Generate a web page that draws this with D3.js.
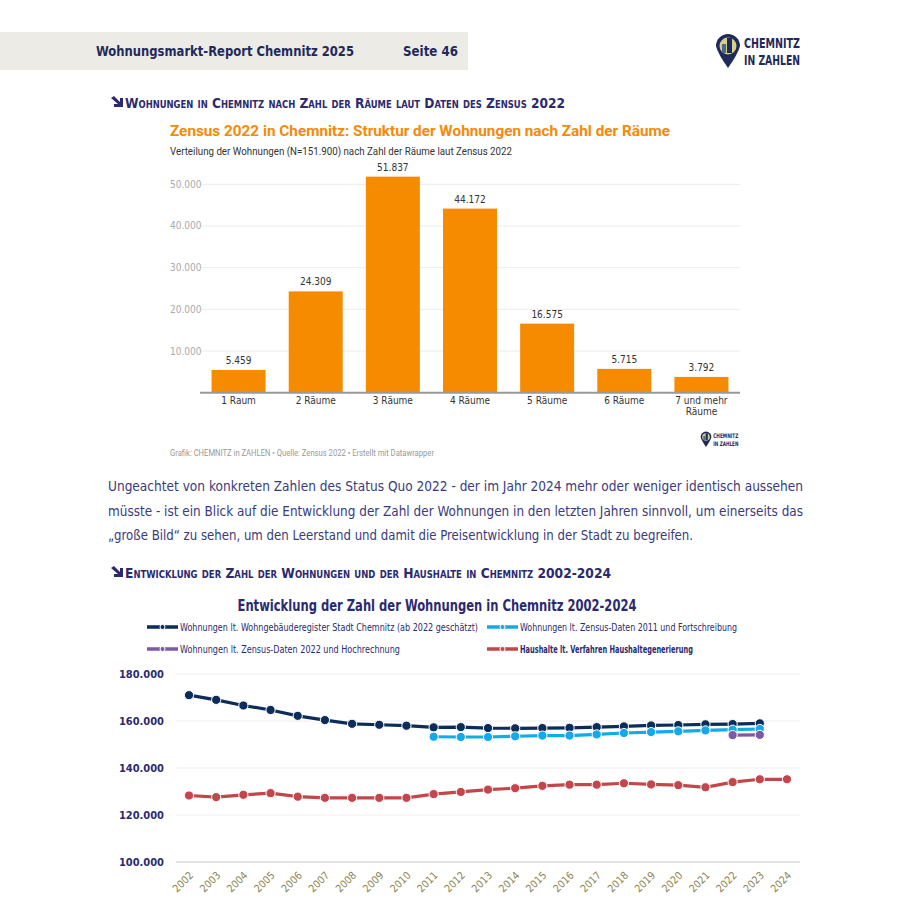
<!DOCTYPE html>
<html>
<head>
<meta charset="utf-8">
<script src="https://cdn.jsdelivr.net/npm/d3@7"></script>
<style>
  body { margin: 0; background: #fff; }
  text { font-family: "DejaVu Sans Condensed", "DejaVu Sans", sans-serif; }
  .rob { font-family: Roboto, "Noto Sans", sans-serif; }
</style>
</head>
<body>
<svg id="page" width="911" height="909"></svg>
<script>
// bar chart data (Zensus 2022)
var rooms = ["1 Raum", "2 Räume", "3 Räume", "4 Räume", "5 Räume", "6 Räume", "7 und mehr Räume"];
var roomCounts = [5459, 24309, 51837, 44172, 16575, 5715, 3792];
var barTicks = [10000, 20000, 30000, 40000, 50000];

// line chart data
var years = [2002, 2003, 2004, 2005, 2006, 2007, 2008, 2009, 2010, 2011, 2012, 2013,
  2014, 2015, 2016, 2017, 2018, 2019, 2020, 2021, 2022, 2023, 2024];
var register = [171000, 169000, 166600, 164700, 162200, 160400, 158800, 158400, 158000, 157300, 157400, 157000,
  156900, 157000, 157100, 157400, 157700, 158100, 158300, 158600, 158700, 159000, null];
var zensus2011 = [null, null, null, null, null, null, null, null, null, 153300, 153200, 153200,
  153500, 153800, 153800, 154300, 154900, 155300, 155600, 156000, 156300, 156600, null];
var zensus2022 = [null, null, null, null, null, null, null, null, null, null, null, null,
  null, null, null, null, null, null, null, null, 154000, 154100, null];
var households = [128300, 127600, 128600, 129300, 127800, 127300, 127300, 127300, 127300, 128900, 129800, 130800,
  131400, 132400, 132900, 132900, 133500, 133000, 132700, 131800, 134000, 135200, 135200];
var lineTicks = [100000, 120000, 140000, 160000, 180000];

var seriesNames = [
  "Wohnungen lt. Wohngebäuderegister Stadt Chemnitz (ab 2022 geschätzt)",
  "Wohnungen lt. Zensus-Daten 2011 und Fortschreibung",
  "Wohnungen lt. Zensus-Daten 2022 und Hochrechnung",
  "Haushalte lt. Verfahren Haushaltegenerierung"
];

var paragraph = [
  "Ungeachtet von konkreten Zahlen des Status Quo 2022 - der im Jahr 2024 mehr oder weniger identisch aussehen",
  "müsste - ist ein Blick auf die Entwicklung der Zahl der Wohnungen in den letzten Jahren sinnvoll, um einerseits das",
  "\u201egroße Bild\u201c zu sehen, um den Leerstand und damit die Preisentwicklung in der Stadt zu begreifen."
];

var navy = "#2b2a6e";
var fmt = d3.formatLocale({decimal: ",", thousands: ".", grouping: [3]}).format(",d");

var svg = d3.select("#page");
var defs = svg.append("defs");

// ---- page header ----
svg.append("rect").attr("x", 0).attr("y", 32).attr("width", 468).attr("height", 38).attr("fill", "#ecebe6");
svg.append("text").attr("x", 96).attr("y", 56).attr("font-size", 13.5).attr("font-weight", "bold")
  .attr("fill", "#1f2a5a").attr("textLength", 258).attr("lengthAdjust", "spacingAndGlyphs")
  .text("Wohnungsmarkt-Report Chemnitz 2025");
svg.append("text").attr("x", 403).attr("y", 56).attr("font-size", 13.5).attr("font-weight", "bold")
  .attr("fill", "#1f2a5a").attr("textLength", 55).attr("lengthAdjust", "spacingAndGlyphs")
  .text("Seite 46");

function logo(g, x, y, s) {
  var l = g.append("g").attr("transform", "translate(" + x + "," + y + ") scale(" + s + ")");
  l.append("path").attr("d", "M-12,0 A12,12 0 1 1 12,0 Q10,8 0,22 Q-10,8 -12,0 Z").attr("fill", "#1f2a5a");
  l.append("circle").attr("r", 8.5).attr("fill", "#d6cf8c");
  l.append("rect").attr("x", -1).attr("y", -8).attr("width", 5).attr("height", 15).attr("fill", "#1f2a5a");
  l.append("rect").attr("x", -6).attr("y", -2).attr("width", 4).attr("height", 9).attr("fill", "#4b6a8a");
  l.append("text").attr("x", 16).attr("y", 2).attr("font-size", 14).attr("font-weight", "bold")
    .attr("fill", "#1f2a5a").attr("textLength", 56).attr("lengthAdjust", "spacingAndGlyphs").text("CHEMNITZ");
  l.append("text").attr("x", 16).attr("y", 19).attr("font-size", 14).attr("font-weight", "bold")
    .attr("fill", "#1f2a5a").attr("textLength", 56).attr("lengthAdjust", "spacingAndGlyphs").text("IN ZAHLEN");
}
logo(svg, 728, 46, 1);

// ---- section headings ----
function heading(y, label, w) {
  svg.append("path").attr("d", "M" + 111 + "," + (y - 10) + " l3,-2 l6,6 v-4 h3 v9 h-9 v-3 h4 z")
    .attr("fill", navy);
  svg.append("text").attr("x", 125).attr("y", y).attr("font-size", 14.5).attr("font-weight", "bold")
    .attr("font-variant", "small-caps").attr("fill", navy)
    .attr("textLength", w).attr("lengthAdjust", "spacingAndGlyphs").text(label);
}
heading(108, "Wohnungen in Chemnitz nach Zahl der Räume laut Daten des Zensus 2022", 440);
heading(578, "Entwicklung der Zahl der Wohnungen und der Haushalte in Chemnitz 2002-2024", 486);

// ---- bar chart ----
svg.append("text").attr("class", "rob").attr("x", 170).attr("y", 136).attr("font-size", 15.5)
  .attr("font-weight", "bold").attr("fill", "#f58a07").attr("textLength", 500).attr("lengthAdjust", "spacingAndGlyphs")
  .text("Zensus 2022 in Chemnitz: Struktur der Wohnungen nach Zahl der Räume");
svg.append("text").attr("class", "rob").attr("x", 170).attr("y", 155).attr("font-size", 10.5)
  .attr("fill", "#333").attr("textLength", 342).attr("lengthAdjust", "spacingAndGlyphs")
  .text("Verteilung der Wohnungen (N=151.900) nach Zahl der Räume laut Zensus 2022");

var bx = d3.scaleBand().domain(rooms).range([200, 740]).paddingInner(0.3).paddingOuter(0.15);
var by = d3.scaleLinear().domain([0, 50000]).range([392.7, 184.3]);

var bars = svg.append("g").attr("class", "rob");
bars.selectAll(".grid").data(barTicks).enter().append("line")
  .attr("x1", 201).attr("x2", 740).attr("y1", function(d) { return by(d); }).attr("y2", function(d) { return by(d); })
  .attr("stroke", "#ececec").attr("stroke-width", 1);
bars.selectAll(".ylab").data(barTicks).enter().append("text")
  .attr("x", 170).attr("y", function(d) { return by(d); }).attr("dy", "0.35em")
  .attr("font-size", 10).attr("fill", "#aaa").text(function(d) { return fmt(d); });
bars.selectAll(".bar").data(roomCounts).enter().append("rect")
  .attr("x", function(d, i) { return bx(rooms[i]); })
  .attr("width", bx.bandwidth())
  .attr("y", function(d) { return by(d); })
  .attr("height", function(d) { return by(0) - by(d); })
  .attr("fill", "#f78b00");
bars.selectAll(".val").data(roomCounts).enter().append("text")
  .attr("x", function(d, i) { return bx(rooms[i]) + bx.bandwidth() / 2; })
  .attr("y", function(d) { return by(d) - 6; })
  .attr("text-anchor", "middle").attr("font-size", 10).attr("fill", "#333")
  .text(function(d) { return fmt(d); });
bars.append("line").attr("x1", 200).attr("x2", 740).attr("y1", by(0)).attr("y2", by(0))
  .attr("stroke", "#999").attr("stroke-width", 2);
rooms.forEach(function(r) {
  var t = bars.append("text").attr("x", bx(r) + bx.bandwidth() / 2).attr("y", 404)
    .attr("text-anchor", "middle").attr("font-size", 10).attr("fill", "#333");
  var parts = r.indexOf("und mehr") > 0 ? ["7 und mehr", "Räume"] : [r];
  parts.forEach(function(p, i) {
    t.append("tspan").attr("x", bx(r) + bx.bandwidth() / 2).attr("dy", i ? 11 : 0).text(p);
  });
});
svg.append("text").attr("class", "rob").attr("x", 170).attr("y", 456).attr("font-size", 8.5)
  .attr("fill", "#999").attr("textLength", 264).attr("lengthAdjust", "spacingAndGlyphs")
  .text("Grafik: CHEMNITZ in ZAHLEN \u2022 Quelle: Zensus 2022 \u2022 Erstellt mit Datawrapper");
logo(svg, 706, 437, 0.45);

// ---- paragraph ----
paragraph.forEach(function(line, i) {
  var t = svg.append("text").attr("x", 108).attr("y", 491 + i * 24.5).attr("font-size", 14.5)
    .attr("fill", "#3a3a7c").text(line);
  if (i < 2) t.attr("textLength", 695).attr("lengthAdjust", "spacingAndGlyphs");
  else t.attr("textLength", 585).attr("lengthAdjust", "spacingAndGlyphs");
});

// ---- line chart ----
svg.append("text").attr("x", 437).attr("y", 611).attr("text-anchor", "middle").attr("font-size", 16)
  .attr("font-weight", "bold").attr("fill", navy).attr("textLength", 399).attr("lengthAdjust", "spacingAndGlyphs")
  .text("Entwicklung der Zahl der Wohnungen in Chemnitz 2002-2024");

var colors = ["#0c2d5a", "#14aae8", "#7c5ba6", "#c2474b"];
var series = [register, zensus2011, zensus2022, households];

var legendPos = [[147, 627, 298], [487, 627, 217], [147, 649, 220], [487, 649, 173]];
series.forEach(function(s, i) {
  var p = legendPos[i];
  var lg = svg.append("g");
  lg.append("line").attr("x1", p[0]).attr("x2", p[0] + 31).attr("y1", p[1]).attr("y2", p[1])
    .attr("stroke", colors[i]).attr("stroke-width", 3.5);
  lg.append("circle").attr("cx", p[0] + 15.5).attr("cy", p[1]).attr("r", 2.5)
    .attr("fill", colors[i]).attr("stroke", "#fff").attr("stroke-width", 1);
  lg.append("text").attr("x", p[0] + 33).attr("y", p[1]).attr("dy", "0.35em").attr("font-size", 10.5)
    .attr("font-weight", i === 3 ? "bold" : "normal").attr("fill", navy)
    .attr("textLength", p[2]).attr("lengthAdjust", "spacingAndGlyphs").text(seriesNames[i]);
});

var lx = d3.scalePoint().domain(years).range([189, 787]);
var ly = d3.scaleLinear().domain([100000, 180000]).range([862, 674]);

var lc = svg.append("g");
lc.selectAll(".grid").data(lineTicks).enter().append("line")
  .attr("x1", 176).attr("x2", 800).attr("y1", function(d) { return ly(d); }).attr("y2", function(d) { return ly(d); })
  .attr("stroke", function(d) { return d === 100000 ? "#e2e2e2" : "#eeeeee"; })
  .attr("stroke-width", function(d) { return d === 100000 ? 2 : 1.2; });
lc.selectAll(".ylab").data(lineTicks).enter().append("text")
  .attr("x", 164).attr("y", function(d) { return ly(d); }).attr("dy", "0.35em")
  .attr("text-anchor", "end").attr("font-size", 11).attr("font-weight", "bold").attr("fill", navy)
  .text(function(d) { return fmt(d); });
// year labels laid along 45-degree paths
years.forEach(function(d) {
  var ex = lx(d) + 5, ey = 876;
  defs.append("path").attr("id", "yp" + d)
    .attr("d", "M" + (ex - 30) + "," + (ey + 30) + " L" + ex + "," + ey);
  lc.append("text").attr("font-size", 10.5).attr("fill", "#8d8452")
    .append("textPath").attr("href", "#yp" + d).attr("startOffset", "100%").attr("text-anchor", "end")
    .text(d);
});

var line = d3.line()
  .defined(function(d) { return d.v != null; })
  .x(function(d) { return lx(d.y); })
  .y(function(d) { return ly(d.v); });

series.forEach(function(s, i) {
  var pts = years.map(function(y, j) { return {y: y, v: s[j]}; });
  lc.append("path").attr("d", line(pts)).attr("fill", "none").attr("stroke", "#fff").attr("stroke-width", 6);
  lc.append("path").attr("d", line(pts)).attr("fill", "none").attr("stroke", colors[i]).attr("stroke-width", 3.2);
  lc.selectAll(".dot" + i).data(pts.filter(function(d) { return d.v != null; })).enter().append("circle")
    .attr("cx", function(d) { return lx(d.y); }).attr("cy", function(d) { return ly(d.v); })
    .attr("r", 4.6).attr("fill", colors[i]).attr("stroke", "#fff").attr("stroke-width", 1);
});
</script>
</body>
</html>
